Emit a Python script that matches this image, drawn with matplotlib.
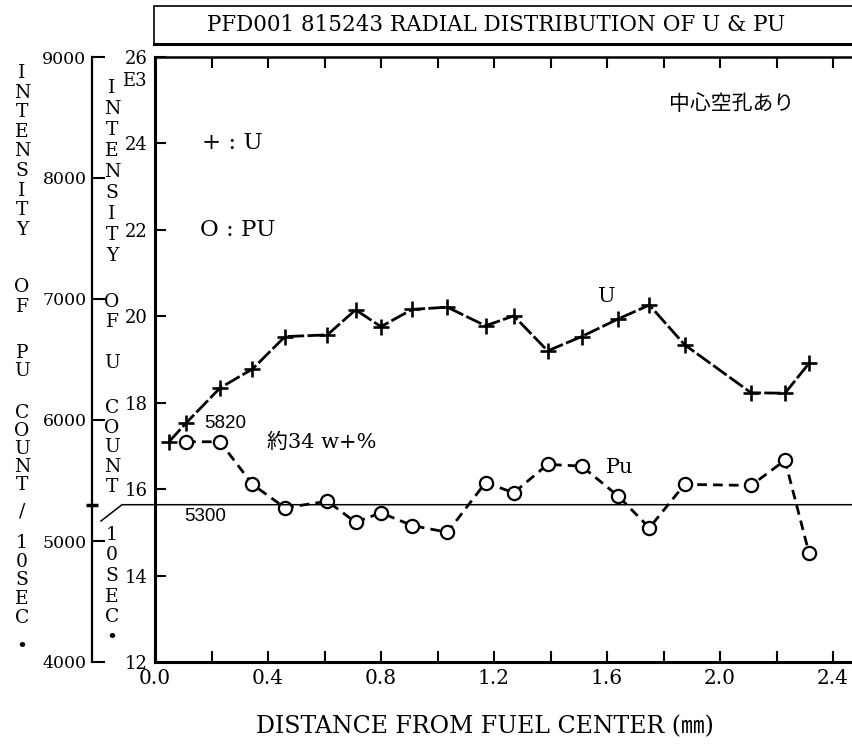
import numpy as np
import matplotlib
matplotlib.use("Agg")
import matplotlib.pyplot as plt
from matplotlib.patches import Rectangle
from matplotlib.lines import Line2D

plt.rcParams['font.family'] = ['DejaVu Serif', 'Noto Sans CJK JP']

# radial scan positions (mm)
dist = [0.05, 0.11, 0.23, 0.345, 0.46, 0.61, 0.71, 0.80, 0.91, 1.035,
        1.17, 1.27, 1.39, 1.51, 1.64, 1.75, 1.875, 2.11, 2.23, 2.315]
# U intensity, counts/10sec (E3)
u_count = [17.10, 17.53, 18.34, 18.78, 19.53, 19.57, 20.15, 19.76, 20.16, 20.21,
           19.78, 20.01, 19.20, 19.53, 19.94, 20.26, 19.34, 18.23, 18.22, 18.91]
# Pu intensity, counts/10sec (no reading at the first position)
pu_dist = dist[1:]
pu_count = [5820, 5820, 5468, 5274, 5329, 5155, 5233, 5128, 5072, 5482,
            5399, 5633, 5619, 5371, 5109, 5468, 5459, 5667, 4901]

pu_ref = 5300
pu_peak = 5820

x_ticks = [0.0, 0.2, 0.4, 0.6, 0.8, 1.0, 1.2, 1.4, 1.6, 1.8, 2.0, 2.2, 2.4]
x_ticklabels = ['0.0', '', '0.4', '', '0.8', '', '1.2', '', '1.6', '', '2.0', '', '2.4']
u_ticks = [12, 14, 16, 18, 20, 22, 24, 26]
pu_ticks = [4000, 5000, 6000, 7000, 8000, 9000]

W, H = 852, 746
fig = plt.figure(figsize=(W / 100, H / 100), dpi=100)


def fx(px):
    return px / W


def fy(py):
    return 1 - py / H


ax = fig.add_axes([fx(155), fy(662), fx(853) - fx(155), fy(57) - fy(662)])
ax.set_xlim(0, (853 - 155) / 282.5)
ax.set_ylim(12, 26)

ax.plot(dist, u_count, color='k', lw=2.0, dashes=(6, 1.2),
        marker='+', ms=12, mew=1.9)

ax.set_xticks(x_ticks)
ax.set_xticklabels(x_ticklabels)
ax.set_yticks(u_ticks)
ax.tick_params(axis='x', which='major', direction='in', length=8, width=1.5,
               top=True, labelsize=14.5, pad=5)
ax.tick_params(axis='y', which='major', direction='in', length=8, width=1.5,
               right=True, labelsize=13, pad=5)
for side in ['left', 'bottom']:
    ax.spines[side].set_linewidth(2.2)
ax.spines['top'].set_linewidth(1.8)
ax.spines['right'].set_visible(False)
ax.text(-0.012, 25.45, 'E3', transform=ax.get_yaxis_transform(),
        ha='right', va='center', fontsize=13)

ax.set_xlabel('DISTANCE FROM FUEL CENTER (㎜)', fontsize=17, va='center')
ax.xaxis.set_label_coords((485 - 155) / 698, -(727 - 662) / 605)

# Pu counts on a second scale further left
ax2 = ax.twinx()
ax2.set_ylim(4000, 9000)
ax2.yaxis.set_ticks_position('left')
ax2.spines['left'].set_visible(True)
ax2.spines['left'].set_position(('outward', 63 * 0.72))
ax2.spines['left'].set_linewidth(1.6)
for side in ['right', 'top', 'bottom']:
    ax2.spines[side].set_visible(False)
ax2.set_yticks(pu_ticks)
ax2.set_yticks([pu_ref], minor=True)
ax2.tick_params(axis='y', which='major', direction='in', length=9, width=1.5,
                labelsize=12.5, pad=4)
ax2.tick_params(axis='y', which='minor', direction='inout', length=8, width=2.5,
                labelleft=False)

ax2.plot(pu_dist, pu_count, color='k', lw=2.0, dashes=(3.5, 2.2),
         marker='o', ms=9.5, mfc='white', mec='k', mew=1.6)

# 5300 reference level
ax2.plot([-0.0774, -0.0473, 1.0], [pu_ref - 135, pu_ref, pu_ref],
         transform=ax2.get_yaxis_transform(), clip_on=False, color='k', lw=1.1)

ax2.text(0.177, 5200, str(pu_ref), family='Liberation Sans', fontsize=13.5,
         ha='center', va='center')
ax2.text(0.248, 5975, str(pu_peak), family='Liberation Sans', fontsize=13.5,
         ha='center', va='center')
ax2.text(0.59, 5816, '約34 w+%', fontsize=15, ha='center', va='center')
ax2.text(1.643, 5609, 'Pu', fontsize=15, ha='center', va='center')
ax.text(1.60, 20.45, 'U', fontsize=15, ha='center', va='center')

ax.text(0.165, 24.0, '+ : U', fontsize=16.5, ha='left', va='center')
ax.text(0.16, 22.0, 'O : PU', fontsize=16.5, ha='left', va='center')
ax.text(2.04, 24.9, '中心空孔あり', fontsize=15, ha='center', va='center')

# title box
fig.add_artist(Rectangle((fx(154), fy(44)), 1, fy(6) - fy(44),
                         transform=fig.transFigure, fill=False, lw=1.2, ec='k'))
fig.add_artist(Line2D([fx(154), 1], [fy(44), fy(44)], lw=2.2, color='k',
                      transform=fig.transFigure))
fig.text(fx(496), fy(25), 'PFD001 815243 RADIAL DISTRIBUTION OF U & PU',
         ha='center', va='center', fontsize=15.5)


def stack(x, y_top, word, step, size=13.5):
    for i, ch in enumerate(word):
        fig.text(fx(x), fy(y_top + i * step), ch, ha='center', va='center',
                 fontsize=size)


# outer axis title
stack(22, 73, 'INTENSITY', 19.6)
stack(22, 287, 'OF', 20)
stack(22, 353, 'PU', 18)
stack(22, 413, 'COUNT', 18)
stack(22, 512, '/', 20)
stack(22, 543, '10SEC', 18.7)
stack(22, 647, '•', 20)

# inner axis title
stack(112, 88, 'INTENSITY', 21)
stack(112, 302, 'OF', 20)
stack(112, 363, 'U', 20)
stack(112, 408, 'COUNT', 19.7)
stack(112, 535, '10SEC', 20.5)
stack(112, 638, '•', 20)

fig.savefig('out.png', dpi=100)
